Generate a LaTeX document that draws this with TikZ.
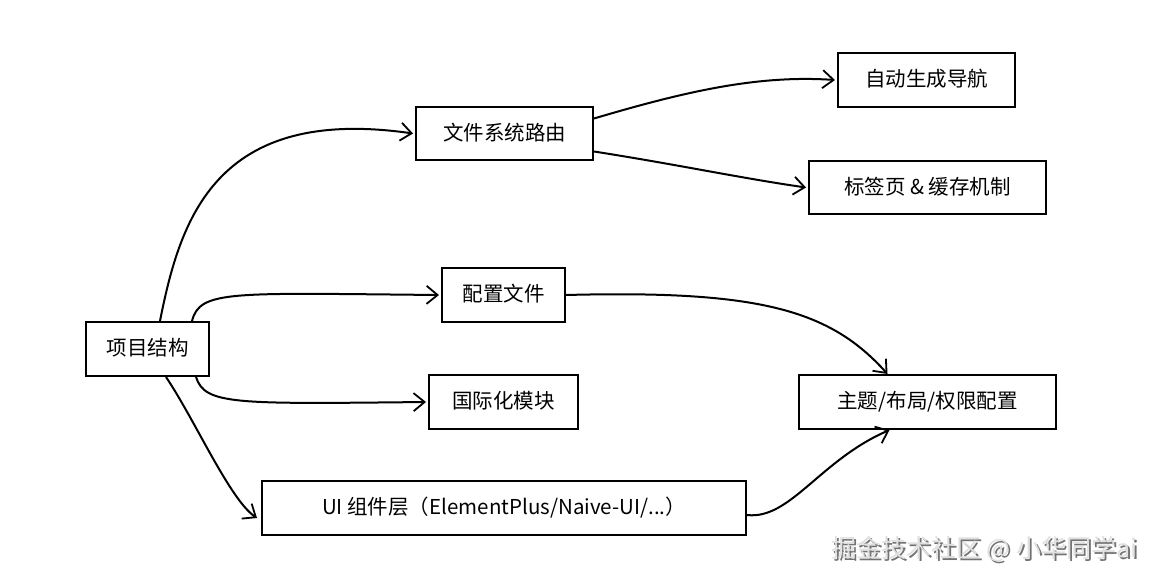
\documentclass[tikz,border=0pt]{standalone}
\usepackage{fontspec}
\setmainfont{Noto Sans CJK SC}
\usetikzlibrary{arrows.meta}
\begin{document}
\begin{tikzpicture}[x=1pt,y=-1pt,
  box/.style={draw=black,line width=2pt,fill=white,inner sep=0pt,font=\fontsize{20.5}{22}\selectfont,text height=16pt,text depth=3pt},
  conn/.style={line width=2pt,-{Straight Barb[length=11pt,width=18pt,line width=1.8pt]}},
  wm/.style={font=\fontsize{25}{27}\selectfont,anchor=west,inner sep=0pt}]
\useasboundingbox[fill=white] (0,0) rectangle (1156,583);
\node[box,minimum width=123pt,minimum height=54pt] (root) at (147.5,349) {项目结构};
\node[box,minimum width=177pt,minimum height=53pt] (fs) at (504.5,133.5) {文件系统路由};
\node[box,minimum width=177pt,minimum height=54pt] (nav) at (926.5,80) {自动生成导航};
\node[box,minimum width=237pt,minimum height=53pt] (tab) at (927.5,187.5) {标签页 \& 缓存机制};
\node[box,minimum width=123pt,minimum height=54pt] (cfg) at (503.5,295) {配置文件};
\node[box,minimum width=149pt,minimum height=54pt] (i18n) at (503.5,402) {国际化模块};
\node[box,minimum width=257pt,minimum height=54pt] (theme) at (927.5,402) {主题/布局/权限配置};
\node[box,minimum width=484pt,minimum height=54pt] (ui) at (504,508) {UI 组件层（ElementPlus/Naive-UI/...）};
% connectors
\draw[conn] ([xshift=-50pt]root.north east) .. controls (180,220) and (215,105) .. ([xshift=-2pt]fs.west);
\draw[conn] ([xshift=-18pt]root.north east) .. controls (200,290) and (230,293) .. ([xshift=-2pt]cfg.west);
\draw[conn] ([xshift=-14pt]root.south east) .. controls (205,405) and (235,404) .. ([xshift=-2pt]i18n.west);
\draw[conn] ([xshift=-44pt]root.south east) .. controls (195,420) and (230,500) .. ([xshift=-4pt,yshift=-10pt]ui.west);
\draw[conn] ([yshift=15pt]fs.east) .. controls (690,90) and (760,75) .. ([xshift=-2pt]nav.west);
\draw[conn] ([yshift=-18pt]fs.east) .. controls (680,165) and (740,178) .. ([xshift=-2pt]tab.west);
\draw[conn] (cfg.east) .. controls (760,290) and (830,310) .. ([xshift=-40pt]theme.north);
\draw[conn] ([yshift=-7pt]ui.east) .. controls (790,520) and (820,460) .. ([xshift=-38pt]theme.south);
% watermark
\node[wm,text=black!55] (wm1) at (833,551) {掘金技术社区 @ 小华同学ai};
\node[wm,text=black!12] (wm2) at (831,549) {掘金技术社区 @ 小华同学ai};
\end{tikzpicture}
\end{document}
